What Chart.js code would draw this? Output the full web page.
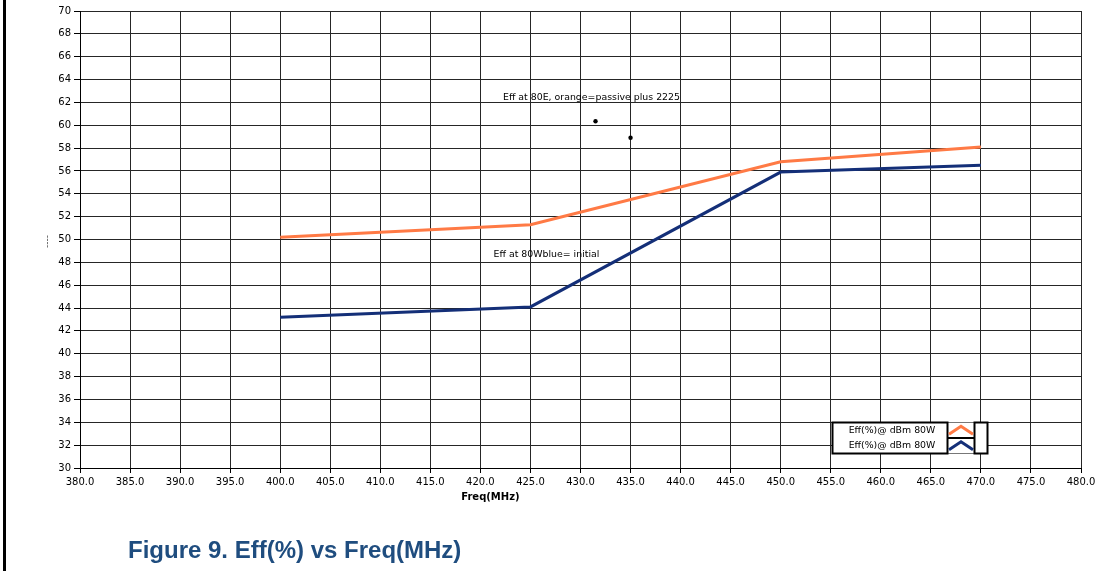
<!DOCTYPE html>
<html>
<head>
<meta charset="utf-8">
<script src="https://cdn.jsdelivr.net/npm/chart.js@4.4.1/dist/chart.umd.min.js"></script>
<style>
  html, body { margin: 0; padding: 0; background: #fff; }
  #wrap { position: relative; width: 1104px; height: 571px; overflow: hidden; }
  #edge { position: absolute; left: 3px; top: 0; width: 3px; height: 571px; background: #000; }
  #chart { position: absolute; left: 0; top: 0; }
  #caption {
    position: absolute; left: 128px; top: 536px; line-height: 26px;
    font: bold 24px "Liberation Sans", Arial, sans-serif; color: #1f4d7f;
    white-space: nowrap;
  }
</style>
</head>
<body>
<div id="wrap">
  <div id="edge"></div>
  <canvas id="chart" width="1104" height="571"></canvas>
  <div id="caption">Figure 9. Eff(%) vs Freq(MHz)</div>
</div>
<script>
// Measured efficiency at 80 W across the band
const freqMHz = [400, 425, 450, 470];
const effPassive2225 = [50.2, 51.3, 56.8, 58.1];   // orange trace
const effInitial = [43.2, 44.1, 55.9, 56.5];       // blue trace
const markerFreq = [431.5, 435.0];
const markerEff = [60.35, 58.9];

const xTickValues = [380, 385, 390, 395, 400, 405, 410, 415, 420, 425, 430, 435, 440, 445, 450, 455, 460, 465, 470, 475, 480];
const yTickValues = [30, 32, 34, 36, 38, 40, 42, 44, 46, 48, 50, 52, 54, 56, 58, 60, 62, 64, 66, 68, 70];

const seriesNames = ['Eff(%)@ dBm 80W', 'Eff(%)@ dBm 80W'];
const noteTop = 'Eff at 80E, orange=passive plus 2225';
const noteBottom = 'Eff at 80Wblue= initial';
const xTitle = 'Freq(MHz)';
const yTitle = '----';

const ORANGE = '#ff7a45';
const NAVY = '#142f78';
const FONT = '"DejaVu Sans", Verdana, sans-serif';

const toPoints = (xs, ys) => xs.map((x, i) => ({ x, y: ys[i] }));

// Notes, axis titles and the boxed legend drawn on top of the plot
const decorations = {
  id: 'decorations',
  afterDatasetsDraw(chart) {
    const { ctx, scales: { x, y }, chartArea } = chart;
    ctx.save();
    ctx.fillStyle = '#000';
    ctx.font = '9.4px ' + FONT;
    ctx.textBaseline = 'middle';
    ctx.textAlign = 'center';
    ctx.fillText(noteTop, x.getPixelForValue(431.1), y.getPixelForValue(62.45));
    ctx.fillText(noteBottom, x.getPixelForValue(426.6), y.getPixelForValue(48.7));

    // x axis title
    ctx.font = 'bold 10px ' + FONT;
    ctx.fillText(xTitle, x.getPixelForValue(421), chartArea.bottom + 29);

    // y axis title
    ctx.save();
    ctx.translate(48, (chartArea.top + chartArea.bottom) / 2 + 2);
    ctx.rotate(-Math.PI / 2);
    ctx.font = '9px ' + FONT;
    ctx.fillStyle = '#444';
    ctx.fillText(yTitle, 0, 0);
    ctx.restore();

    // legend
    const left = Math.round(x.getPixelForValue(455.1)) + 0.5;
    const top = Math.round(y.getPixelForValue(34.0)) + 0.5;
    const textW = 115, iconW = 27, extraW = 13, h = 31, rowH = h / 2;
    ctx.fillStyle = '#fff';
    ctx.fillRect(left, top, textW + iconW + extraW, h);
    ctx.lineWidth = 1;
    ctx.strokeStyle = '#777';
    ctx.strokeRect(left + textW, top, iconW, h);
    ctx.lineWidth = 2;
    ctx.strokeStyle = '#000';
    ctx.strokeRect(left, top, textW, h);
    ctx.strokeRect(left + textW + iconW, top, extraW, h);
    ctx.beginPath();
    ctx.moveTo(left + textW, top + rowH);
    ctx.lineTo(left + textW + iconW, top + rowH);
    ctx.stroke();

    ctx.font = '9.4px ' + FONT;
    ctx.fillStyle = '#000';
    ctx.textAlign = 'center';
    chart.data.datasets.slice(0, 2).forEach((ds, i) => {
      const cy = top + rowH * i + rowH / 2;
      ctx.fillText(seriesNames[i], left + textW / 2 + 2, cy);
      const cx = left + textW + iconW / 2;
      ctx.beginPath();
      ctx.strokeStyle = ds.borderColor;
      ctx.lineWidth = 3;
      ctx.moveTo(cx - 12, cy + 4);
      ctx.lineTo(cx, cy - 4);
      ctx.lineTo(cx + 12, cy + 4);
      ctx.stroke();
    });
    ctx.restore();
  }
};

new Chart(document.getElementById('chart'), {
  type: 'scatter',
  data: {
    datasets: [
      {
        label: seriesNames[0],
        data: toPoints(freqMHz, effPassive2225),
        showLine: true,
        borderColor: ORANGE,
        borderWidth: 3,
        pointRadius: 0,
        tension: 0
      },
      {
        label: seriesNames[1],
        data: toPoints(freqMHz, effInitial),
        showLine: true,
        borderColor: NAVY,
        borderWidth: 3,
        pointRadius: 0,
        tension: 0
      },
      {
        label: 'markers',
        data: toPoints(markerFreq, markerEff),
        showLine: false,
        backgroundColor: '#000',
        borderColor: '#000',
        pointRadius: 2.2,
        borderWidth: 0
      }
    ]
  },
  plugins: [decorations],
  options: {
    responsive: false,
    animation: false,
    layout: { padding: { left: 0, top: 11, right: 23, bottom: 0 } },
    plugins: {
      legend: { display: false },
      tooltip: { enabled: false }
    },
    scales: {
      x: {
        type: 'linear',
        min: 380,
        max: 480,
        afterBuildTicks: s => { s.ticks = xTickValues.map(v => ({ value: v })); },
        afterFit: s => { s.height = 103; },
        ticks: {
          color: '#000',
          font: { family: FONT, size: 10 },
          padding: 3,
          maxRotation: 0,
          autoSkip: false,
          callback: v => Number(v).toFixed(1)
        },
        grid: { color: '#262626', lineWidth: 1, tickLength: 5, tickColor: '#000' },
        border: { color: '#000', width: 1 }
      },
      y: {
        min: 30,
        max: 70,
        afterBuildTicks: s => { s.ticks = yTickValues.map(v => ({ value: v })); },
        afterFit: s => { s.width = 80; },
        ticks: {
          color: '#000',
          font: { family: FONT, size: 10 },
          padding: 3,
          autoSkip: false,
          callback: v => String(v)
        },
        grid: { color: '#262626', lineWidth: 1, tickLength: 6, tickColor: '#000' },
        border: { color: '#000', width: 1 }
      }
    }
  }
});
</script>
</body>
</html>
